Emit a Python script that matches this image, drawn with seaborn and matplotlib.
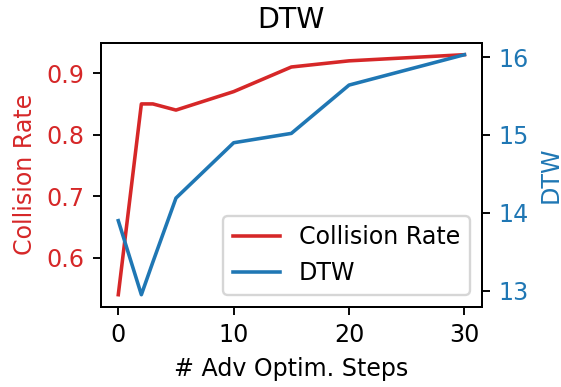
import matplotlib
matplotlib.use("Agg")
import matplotlib.pyplot as plt
import seaborn as sns
import pandas as pd

steps = [0, 2, 3, 5, 10, 15, 20, 30]
collision_rate = [0.54, 0.85, 0.85, 0.84, 0.87, 0.91, 0.92, 0.93]
dtw = [13.90, 12.95, 13.37, 14.19, 14.90, 15.02, 15.64, 16.03]

red = "#d62728"
blue = "#1f77b4"

df = pd.DataFrame({"steps": steps, "cr": collision_rate, "dtw": dtw})

fig = plt.figure(figsize=(561 / 171, 387 / 171), dpi=171)
ax = fig.add_axes([0.180, 0.2075, 0.8587 - 0.180, 0.8897 - 0.2075])
ax2 = ax.twinx()

sns.lineplot(data=df, x="steps", y="cr", ax=ax, color=red, label="Collision Rate", legend=False)
sns.lineplot(data=df, x="steps", y="dtw", ax=ax2, color=blue, label="DTW", legend=False)

ax.set_xlabel("# Adv Optim. Steps")
ax.set_ylabel("Collision Rate", color=red)
ax2.set_ylabel("DTW", color=blue)
ax.tick_params(axis="y", labelcolor=red)
ax2.tick_params(axis="y", labelcolor=blue)
ax.set_xticks([0, 10, 20, 30])
ax.set_yticks([0.6, 0.7, 0.8, 0.9])
ax2.set_yticks([13, 14, 15, 16])
ax.set_title("DTW")

h1, l1 = ax.get_legend_handles_labels()
h2, l2 = ax2.get_legend_handles_labels()
ax2.legend(h1 + h2, l1 + l2, loc="lower right")

fig.savefig("out.png", dpi=171)
